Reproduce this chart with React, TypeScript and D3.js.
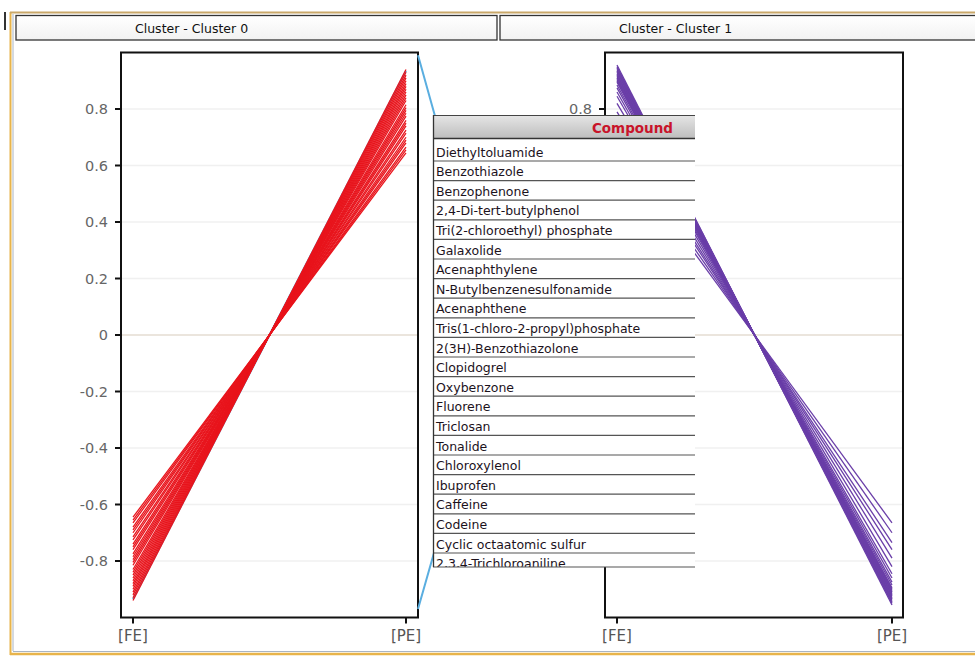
import React from "react";
import * as d3 from "d3";

// ---------- data ----------
const panelTitles = ["Cluster - Cluster 0", "Cluster - Cluster 1"];
const axisNames = ["[FE]", "[PE]"];
const yTicks = [-0.8, -0.6, -0.4, -0.2, 0, 0.2, 0.4, 0.6, 0.8];

// Cluster 0: FE negative, PE positive
const cluster0FE = [-0.645, -0.655, -0.665, -0.68, -0.69, -0.7, -0.715, -0.725, -0.74, -0.75, -0.76, -0.775, -0.785, -0.795, -0.805, -0.815, -0.83, -0.84, -0.85, -0.86, -0.87, -0.88, -0.89, -0.9, -0.91, -0.92, -0.93, -0.94];
const cluster0PE = [0.645, 0.655, 0.665, 0.68, 0.69, 0.7, 0.715, 0.725, 0.74, 0.75, 0.76, 0.775, 0.785, 0.795, 0.805, 0.815, 0.83, 0.84, 0.85, 0.86, 0.87, 0.88, 0.89, 0.9, 0.91, 0.92, 0.93, 0.94];

// Cluster 1: FE positive, PE negative
const cluster1FE = [0.665, 0.7, 0.735, 0.76, 0.79, 0.82, 0.845, 0.86, 0.875, 0.885, 0.895, 0.9, 0.905, 0.91, 0.915, 0.92, 0.925, 0.93, 0.935, 0.94, 0.945, 0.95, 0.956];
const cluster1PE = [-0.665, -0.7, -0.735, -0.76, -0.79, -0.82, -0.845, -0.86, -0.875, -0.885, -0.895, -0.9, -0.905, -0.91, -0.915, -0.92, -0.925, -0.93, -0.935, -0.94, -0.945, -0.95, -0.956];

// highlighted (selected) profile in the left panel
const highlightProfile = [-0.935, 0.935];
// its connector drawn past the left frame, x in axis-index units of the left panel
const connectorX = [1.044, 1.33, 1.044];
const connectorY = [0.99, 0, -0.97];

const compounds = [
  "Diethyltoluamide",
  "Benzothiazole",
  "Benzophenone",
  "2,4-Di-tert-butylphenol",
  "Tri(2-chloroethyl) phosphate",
  "Galaxolide",
  "Acenaphthylene",
  "N-Butylbenzenesulfonamide",
  "Acenaphthene",
  "Tris(1-chloro-2-propyl)phosphate",
  "2(3H)-Benzothiazolone",
  "Clopidogrel",
  "Oxybenzone",
  "Fluorene",
  "Triclosan",
  "Tonalide",
  "Chloroxylenol",
  "Ibuprofen",
  "Caffeine",
  "Codeine",
  "Cyclic octaatomic sulfur",
  "2,3,4-Trichloroaniline",
];
const tableHeader = "Compound";

// ---------- layout ----------
const W = 975;
const H = 658;
const plotTop = 52.5;
const plotBottom = 617.5;
const tableX = 433;
const tableR = 695;
const headerTop = 115;
const headerBottom = 138.5;
const firstRowLine = 161;
const rowH = 19.6;
const tableBottom = 567;

const yScale = d3.scaleLinear().domain([-1, 1]).range([plotBottom, plotTop]);

const panels = [
  { left: 121, right: 418, x0: 133, x1: 406, fe: cluster0FE, pe: cluster0PE, color: "#e8141c", hx: 16, hw: 481, covered: false },
  { left: 605, right: 903, x0: 617, x1: 892, fe: cluster1FE, pe: cluster1PE, color: "#6a3ea8", hx: 500, hw: 480, covered: true },
];

const axisFont = "'DejaVu Sans', sans-serif";

function Panel({ p }: { p: any }) {
  const x = d3.scalePoint<string>().domain(axisNames).range([p.x0, p.x1]);
  const line = d3
    .line<[string, number]>()
    .x((d) => x(d[0]) as number)
    .y((d) => yScale(d[1]));
  return (
    <g>
      {yTicks.map((t) => (
        <line
          key={"g" + t}
          x1={p.left + 1}
          x2={p.right - 1}
          y1={yScale(t)}
          y2={yScale(t)}
          stroke={t === 0 ? "#e4dcd2" : "#f0f0f0"}
          strokeWidth={1.5}
        />
      ))}
      {p.highlight && (
        <path
          d={line([
            [axisNames[0], p.highlight[0]],
            [axisNames[1], p.highlight[1]],
          ]) as string}
          fill="none"
          stroke="#5aaee0"
          strokeWidth={2}
        />
      )}
      {p.fe.map((v: number, i: number) => (
        <path
          key={"l" + i}
          d={line([
            [axisNames[0], v],
            [axisNames[1], p.pe[i]],
          ]) as string}
          fill="none"
          stroke={p.color}
          strokeWidth={1.3}
        />
      ))}
      <rect x={p.left} y={plotTop} width={p.right - p.left} height={plotBottom - plotTop} fill="none" stroke="#111" strokeWidth={2} />
      {yTicks.map((t) => {
        const hidden = p.covered && yScale(t) > headerTop;
        return (
          <g key={"t" + t}>
            <line x1={p.left - 6} x2={p.left} y1={yScale(t)} y2={yScale(t)} stroke="#111" strokeWidth={2} />
            {!hidden && (
              <text
                x={p.left - 13}
                y={yScale(t)}
                dy="0.36em"
                textAnchor="end"
                fontFamily={axisFont}
                fontSize={14.5}
                fill="#666"
              >
                {t === 0 ? "0" : (t < 0 ? "-" : "") + Math.abs(t).toFixed(1)}
              </text>
            )}
          </g>
        );
      })}
      {axisNames.map((a) => (
        <g key={a}>
          <line x1={x(a)} x2={x(a)} y1={plotBottom} y2={plotBottom + 6} stroke="#111" strokeWidth={2} />
          <text x={x(a)} y={plotBottom + 23} textAnchor="middle" fontFamily={axisFont} fontSize={15} fill="#555">
            {a}
          </text>
        </g>
      ))}
    </g>
  );
}

export default function App() {
  const hxScale = d3.scaleLinear().domain([0, 1]).range([panels[0].x0, panels[0].x1]);
  const connector = d3
    .line<number>()
    .x((d) => hxScale(d))
    .y((_d, i) => yScale(connectorY[i]));

  return (
    <svg width={W} height={H} style={{ position: "absolute", left: 0, top: 0, background: "#fff" }}>
      <defs>
        <linearGradient id="hdr" x1="0" y1="0" x2="0" y2="1">
          <stop offset="0" stopColor="#e6e6e6" />
          <stop offset="1" stopColor="#bdbdbd" />
        </linearGradient>
        <linearGradient id="ttl" x1="0" y1="0" x2="0" y2="1">
          <stop offset="0" stopColor="#ffffff" />
          <stop offset="1" stopColor="#f2f2f2" />
        </linearGradient>
        <clipPath id="tclip">
          <rect x={tableX} y={headerTop} width={tableR - tableX + 1} height={tableBottom - headerTop} />
        </clipPath>
      </defs>

      {/* outer window frame */}
      <line x1={10.5} x2={10.5} y1={12} y2={655} stroke="#e8b44a" strokeWidth={2} />
      <line x1={13} x2={13} y1={14} y2={651} stroke="#a9b4c2" strokeWidth={1} />
      <line x1={10} x2={W} y1={12.5} y2={12.5} stroke="#c9a86a" strokeWidth={2} />
      <line x1={10} x2={W} y1={654} y2={654} stroke="#e8b44a" strokeWidth={2.5} />
      <line x1={13} x2={W} y1={651.5} y2={651.5} stroke="#a9b4c2" strokeWidth={1} />
      <line x1={5} x2={5} y1={12} y2={30} stroke="#333" strokeWidth={2} />

      {panels.map((p, i) => (
        <g key={"title" + i}>
          <rect x={p.hx} y={15.5} width={p.hw} height={24.5} fill="url(#ttl)" stroke="#333" strokeWidth={1.3} />
          <text x={p.hx + 119} y={33} fontFamily={axisFont} fontSize={12.5} fill="#111">
            {panelTitles[i]}
          </text>
        </g>
      ))}

      {panels.map((p, i) => (
        <Panel key={i} p={i === 0 ? { ...p, highlight: highlightProfile } : p} />
      ))}

      <path d={connector(connectorX) as string} fill="none" stroke="#5aaee0" strokeWidth={2} />

      {/* compound table */}
      <g clipPath="url(#tclip)">
        <rect x={tableX} y={headerTop} width={tableR - tableX} height={tableBottom - headerTop} fill="#fff" />
        <rect x={tableX} y={headerTop} width={tableR - tableX} height={headerBottom - headerTop} fill="url(#hdr)" />
        <line x1={tableX} x2={tableR} y1={headerTop + 0.5} y2={headerTop + 0.5} stroke="#444" strokeWidth={1.2} />
        <line x1={tableX} x2={tableR} y1={headerBottom} y2={headerBottom} stroke="#333" strokeWidth={1.5} />
        <text
          x={673}
          y={headerTop + 17.5}
          textAnchor="end"
          fontFamily={axisFont}
          fontWeight="bold"
          fontSize={13.5}
          fill="#c8142a"
        >
          {tableHeader}
        </text>
        {compounds.map((c, i) => {
          const bottom = firstRowLine + i * rowH;
          return (
            <g key={c}>
              <text x={tableX + 3} y={bottom - 4.5} fontFamily={axisFont} fontSize={12.5} fill="#1c121c">
                {c}
              </text>
              <line x1={tableX} x2={tableR} y1={bottom} y2={bottom} stroke="#555" strokeWidth={1.2} />
            </g>
          );
        })}
      </g>
      <line x1={tableX} x2={tableR} y1={tableBottom} y2={tableBottom} stroke="#555" strokeWidth={1.2} />
      <line x1={tableX + 0.5} x2={tableX + 0.5} y1={headerTop} y2={tableBottom} stroke="#333" strokeWidth={1.3} />
    </svg>
  );
}
